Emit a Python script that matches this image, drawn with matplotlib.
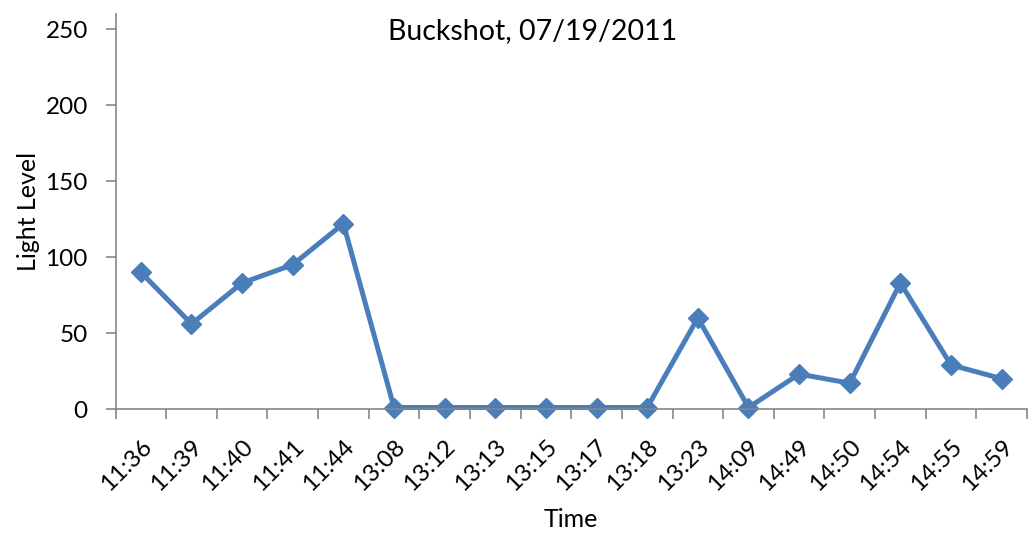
import matplotlib
matplotlib.use('agg')
import matplotlib.pyplot as plt
import matplotlib.transforms as mtransforms
import numpy as np

# chart data
times = ['11:36', '11:39', '11:40', '11:41', '11:44', '13:08', '13:12', '13:13', '13:15',
         '13:17', '13:18', '13:23', '14:09', '14:49', '14:50', '14:54', '14:55', '14:59']
light_level = [90, 56, 83, 95, 122, 1, 1, 1, 1, 1, 1, 60, 1, 23, 17, 83, 29, 20]
y_ticks = [0, 50, 100, 150, 200, 250]

plt.rcParams['font.family'] = ['Lato', 'DejaVu Sans']

fig = plt.figure(figsize=(10.28, 5.33), dpi=100)
ax = fig.add_axes([0.1124, 0.2326, 0.8866, 0.7411])

x = np.arange(len(times))
ax.plot(x, light_level, color='#4A7EBB', linewidth=3.6, marker='D', markersize=10,
        markeredgecolor='#4A7EBB', markerfacecolor='#4A7EBB', clip_on=False)

ax.set_xlim(-0.5, len(times) - 0.5)
ax.set_ylim(0, 260)
ax.set_yticks(y_ticks)
ax.set_xticks(x)
ax.set_xticklabels(times, rotation=45, ha='right', rotation_mode='anchor')
ax.set_xticks(np.arange(-0.5, len(times)), minor=True)

# nudge rotated labels a bit to the left
shift = mtransforms.ScaledTranslation(-5 / 100, 0, fig.dpi_scale_trans)
for lbl in ax.get_xticklabels():
    lbl.set_transform(lbl.get_transform() + shift)

# excel-like axes
for side in ['top', 'right']:
    ax.spines[side].set_visible(False)
for side in ['left', 'bottom']:
    ax.spines[side].set_color('#868686')
    ax.spines[side].set_linewidth(1.2)
ax.tick_params(axis='x', which='major', length=0, pad=19, labelsize=17.5)
ax.tick_params(axis='x', which='minor', length=7, color='#868686', width=1.2)
ax.tick_params(axis='y', length=7, color='#868686', width=1.2, labelsize=17.5, pad=13)

ax.set_xlabel('Time', fontsize=18, labelpad=10)
ax.set_ylabel('Light Level', fontsize=18, labelpad=4)
ax.text(0.458, 0.99, 'Buckshot, 07/19/2011', transform=ax.transAxes, ha='center', va='top', fontsize=20.5)

plt.savefig('out.png')
plt.close()
